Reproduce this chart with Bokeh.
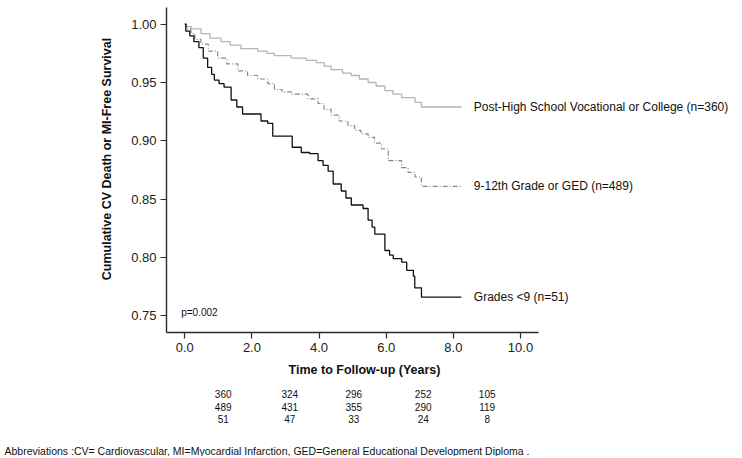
import math
from bokeh.plotting import figure
from bokeh.layouts import column, row
from bokeh.models import Range1d, FixedTicker, NumeralTickFormatter, ColumnDataSource
from bokeh.core.properties import value
from bokeh.embed import file_html
from bokeh.resources import INLINE

# ---------------- data ----------------
groups = ["Post-High School Vocational or College (n=360)",
          "9-12th Grade or GED (n=489)",
          "Grades <9 (n=51)"]

post_t = [0, 0.05, 0.2, 0.48, 0.75, 1.08, 1.35, 1.67, 2.17, 2.45, 2.67, 3.17, 3.62,
          3.92, 4.15, 4.36, 4.7, 4.96, 5.2, 5.46, 5.7, 5.96, 6.2, 6.46, 6.86, 7.05, 8.24]
post_s = [1.0, 0.998, 0.996, 0.992, 0.988, 0.985, 0.982, 0.979, 0.977, 0.975, 0.973,
          0.971, 0.969, 0.967, 0.964, 0.961, 0.958, 0.956, 0.953, 0.950, 0.947, 0.943,
          0.940, 0.937, 0.933, 0.929, 0.929]

mid_t = [0, 0.05, 0.18, 0.3, 0.48, 0.7, 0.98, 1.25, 1.58, 1.87, 2.17, 2.47, 2.67, 2.9,
         3.17, 3.67, 3.97, 4.15, 4.36, 4.6, 4.86, 5.06, 5.25, 5.46, 5.65, 5.86, 6.06,
         6.46, 6.65, 6.86, 7.05, 8.24]
mid_s = [1.0, 0.996, 0.992, 0.987, 0.983, 0.977, 0.971, 0.966, 0.960, 0.956, 0.953,
         0.949, 0.944, 0.942, 0.940, 0.936, 0.932, 0.927, 0.922, 0.917, 0.913, 0.909,
         0.906, 0.903, 0.898, 0.893, 0.883, 0.877, 0.873, 0.869, 0.861, 0.861]

low_t = [0, 0.03, 0.15, 0.27, 0.42, 0.55, 0.68, 0.80, 0.88, 1.02, 1.17, 1.38, 1.55,
         1.72, 2.27, 2.47, 2.62, 3.2, 3.47, 3.72, 3.97, 4.12, 4.27, 4.42, 4.66, 4.80,
         4.96, 5.31, 5.46, 5.58, 5.66, 5.96, 6.10, 6.21, 6.46, 6.61, 6.81, 6.85, 7.05, 8.24]
low_s = [1.0, 0.994, 0.990, 0.985, 0.980, 0.971, 0.963, 0.957, 0.952, 0.949, 0.946,
         0.935, 0.929, 0.923, 0.917, 0.915, 0.904, 0.8945, 0.890, 0.889, 0.883, 0.879,
         0.874, 0.863, 0.857, 0.851, 0.845, 0.842, 0.832, 0.826, 0.820, 0.806, 0.802,
         0.799, 0.796, 0.789, 0.784, 0.774, 0.766, 0.766]

x_ticks = [0, 2, 4, 6, 8, 10]
y_ticks = [0.75, 0.80, 0.85, 0.90, 0.95, 1.00]

risk_post = [360, 324, 296, 252, 105]
risk_mid = [489, 431, 355, 290, 119]
risk_low = [51, 47, 33, 24, 8]

p_value_text = "p=0.002"
x_title = "Time to Follow-up (Years)"
y_title = "Cumulative CV Death or MI-Free Survival"
abbrev = ("Abbreviations :CV= Cardiovascular, MI=Myocardial  Infarction, "
          "GED=General Educational Development Diploma .")

# ---------------- layout geometry (page pixels) ----------------
TOTAL_W = 740
LEFT_W = 120                 # narrow panel holding the y title
MAIN_W = TOTAL_W - LEFT_W
FRAME_L, FRAME_T, FRAME_B = 166, 7, 332
MAIN_H = 360
BOT_H = 96

SX = 33.57                   # px per year
SY = 1166.4                  # px per unit survival
X0 = -(184.3 - FRAME_L) / SX
X1 = X0 + (TOTAL_W - FRAME_L) / SX
Y1 = 1.0 + (23.7 - FRAME_T) / SY
Y0 = Y1 - (FRAME_B - FRAME_T) / SY
X_AXIS_END = X0 + (538 - FRAME_L) / SX


def fx(px):
    return X0 + (px - FRAME_L) / SX


def fy(py):
    return Y1 - (py - FRAME_T) / SY


FONT = "Liberation Sans"
INK = "#111111"

y_range = Range1d(Y0, Y1)

# ---------------- main chart ----------------
p = figure(width=MAIN_W, height=MAIN_H, output_backend="svg", toolbar_location=None,
           title=None, x_range=Range1d(X0, X1), y_range=y_range,
           min_border_left=FRAME_L - LEFT_W, min_border_right=0,
           min_border_top=FRAME_T, min_border_bottom=MAIN_H - FRAME_B)
p.outline_line_color = None
p.xgrid.visible = False
p.ygrid.visible = False

for ax in (p.xaxis[0], p.yaxis[0]):
    ax.axis_line_color = "#2a2a2a"
    ax.axis_line_width = 1.4
    ax.major_tick_line_color = "#2a2a2a"
    ax.major_tick_line_width = 1.2
    ax.major_tick_out = 6
    ax.major_tick_in = 0
    ax.minor_tick_line_color = None
    ax.major_label_text_font = FONT
    ax.major_label_text_font_size = "13px"
    ax.major_label_text_color = "#222222"

p.xaxis.ticker = FixedTicker(ticks=x_ticks)
p.yaxis.ticker = FixedTicker(ticks=y_ticks)
p.xaxis.formatter = NumeralTickFormatter(format="0.0")
p.yaxis.formatter = NumeralTickFormatter(format="0.00")
p.xaxis.bounds = (X0, X_AXIS_END)
p.xaxis.major_label_standoff = 4
p.yaxis.major_label_standoff = 4

p.step(post_t, post_s, mode="after", line_color="#b5b5b5", line_width=1.3)
p.step(mid_t, mid_s, mode="after", line_color="#8a8a8a", line_width=1.2,
       line_dash="5 2 1 2")
p.step(low_t, low_s, mode="after", line_color=INK, line_width=1.3)

end_vals = [post_s[-1], mid_s[-1], low_s[-1]]
p.text(x=[fx(473.3)] * 3, y=end_vals, text=groups,
       text_font=value(FONT), text_font_size="12px", text_color=INK,
       text_baseline="middle", text_align="left")

p.text(x=[fx(180.7)], y=[fy(312.3)], text=[p_value_text],
       text_font=value(FONT), text_font_size="10px", text_color=INK,
       text_baseline="middle", text_align="left")

# ---------------- left panel: y title ----------------
lp = figure(width=LEFT_W, height=MAIN_H, output_backend="svg", toolbar_location=None,
            title=None, x_range=Range1d(0, LEFT_W), y_range=y_range,
            min_border_left=0, min_border_right=0,
            min_border_top=FRAME_T, min_border_bottom=MAIN_H - FRAME_B)
lp.axis.visible = False
lp.grid.visible = False
lp.outline_line_color = None
lp.text(x=[106.7], y=[fy(158.5)], text=[y_title], angle=math.pi / 2,
        text_font=value(FONT), text_font_size="12.5px", text_font_style="bold",
        text_color=INK, text_baseline="middle", text_align="center")

# ---------------- bottom panel: x title, risk table, footnote ----------------
bp = figure(width=TOTAL_W, height=BOT_H, output_backend="svg", toolbar_location=None,
            title=None, x_range=Range1d(0, TOTAL_W),
            y_range=Range1d(MAIN_H + BOT_H, MAIN_H),
            min_border_left=0, min_border_right=0, min_border_top=0, min_border_bottom=0)
bp.axis.visible = False
bp.grid.visible = False
bp.outline_line_color = None

bp.text(x=[364], y=[369.5], text=[x_title],
        text_font=value(FONT), text_font_size="12.5px", text_font_style="bold",
        text_color=INK, text_baseline="middle", text_align="center")

col_px = [222.7, 289.3, 353.3, 422.7, 486.7]
row_py = [393.3, 406.0, 418.7]
xs, ys, ts = [], [], []
for r, vals in zip(row_py, [risk_post, risk_mid, risk_low]):
    for cx, v in zip(col_px, vals):
        xs.append(cx)
        ys.append(r)
        ts.append(str(v))
bp.text(x="x", y="y", text="t", source=ColumnDataSource(dict(x=xs, y=ys, t=ts)),
        text_font=value(FONT), text_font_size="10px", text_color=INK,
        text_baseline="middle", text_align="center")

bp.text(x=[4], y=[450], text=[abbrev],
        text_font=value(FONT), text_font_size="10.5px", text_color=INK,
        text_baseline="middle", text_align="left")

layout = column(row(lp, p), bp)
open("out.html", "w").write(file_html(layout, INLINE))
